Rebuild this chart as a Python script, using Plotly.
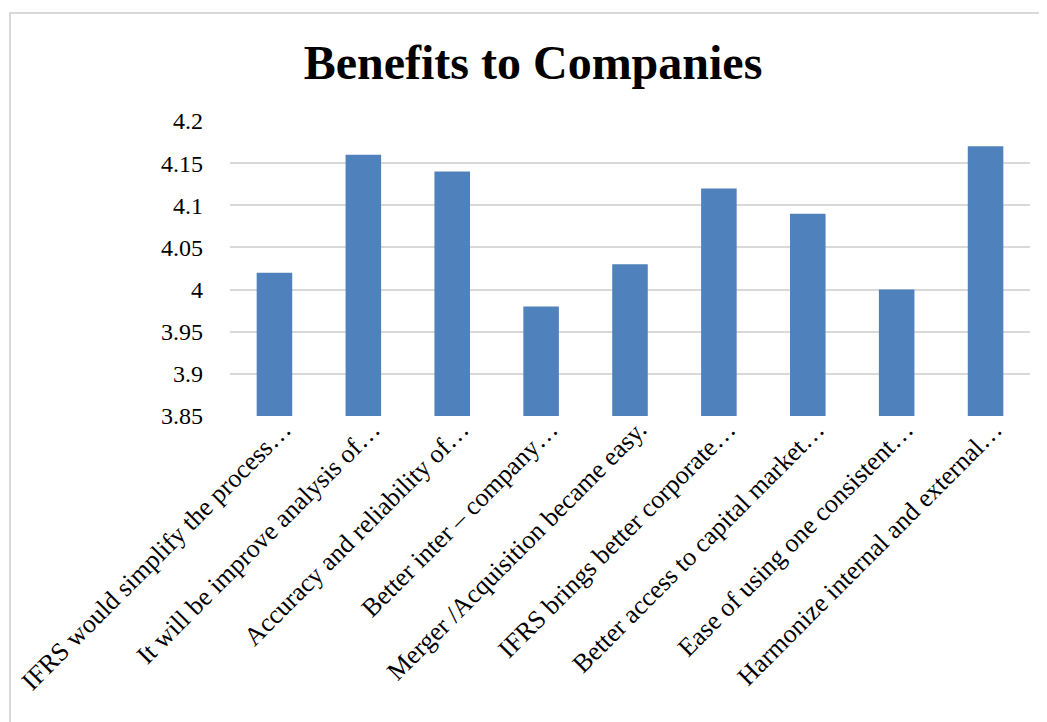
import plotly.graph_objects as go

categories = [
    "IFRS would simplify the process…",
    "It will be improve analysis of…",
    "Accuracy and reliability of…",
    "Better inter – company…",
    "Merger /Acquisition became easy.",
    "IFRS brings better corporate…",
    "Better access to capital market…",
    "Ease of using one consistent…",
    "Harmonize internal and external…",
]
values = [4.02, 4.16, 4.14, 3.98, 4.03, 4.12, 4.09, 4.00, 4.17]
tick_vals = [3.85, 3.9, 3.95, 4.0, 4.05, 4.1, 4.15, 4.2]
tick_text = ["3.85", "3.9", "3.95", "4", "4.05", "4.1", "4.15", "4.2"]

OFF = 8  # page body margin
W, H = 1047 - OFF, 722 - OFF
L, T = 230 - OFF, 121 - OFF
R = W - (1030 - OFF)
B = H - (416 - OFF)
PW, PH = W - L - R, H - T - B

fig = go.Figure(go.Bar(
    x=categories, y=values, marker=dict(color="#4F81BD", line=dict(width=0)),
))

fig.update_layout(
    width=W, height=H,
    margin=dict(l=L, r=R, t=T, b=B, autoexpand=False),
    paper_bgcolor="white", plot_bgcolor="white",
    bargap=0.6,
    showlegend=False,
    font=dict(family="Liberation Serif", color="black"),
    title=dict(text="<b>Benefits to Companies</b>", font=dict(size=48, family="Liberation Serif", color="black"),
               xref="container", x=(533 - OFF) / W, xanchor="center",
               yref="container", y=1 - (62 - OFF) / H, yanchor="middle"),
    xaxis=dict(tickangle=-45, tickfont=dict(size=26, family="Liberation Serif"),
               ticklabelshift=9, ticklabelstandoff=-8,
               showgrid=False, showline=False, ticks="", automargin=False),
    yaxis=dict(range=[3.85, 4.2], tickvals=tick_vals, ticktext=tick_text,
               tickfont=dict(size=24, family="Liberation Serif"), ticklabelstandoff=26,
               showgrid=True, gridcolor="#D9D9D9", gridwidth=1.5,
               zeroline=False, showline=False, ticks="", automargin=False),
    shapes=[dict(type="rect", xref="paper", yref="paper",
                 x0=(10 - OFF - L) / PW, x1=1.2, y0=-1.5, y1=(H - B - (13 - OFF)) / PH,
                 line=dict(color="#D9D9D9", width=2), fillcolor="rgba(0,0,0,0)", layer="below")],
)

fig.write_html("out.html")
